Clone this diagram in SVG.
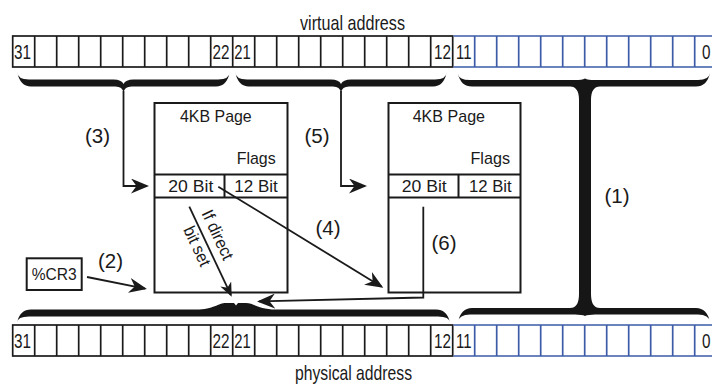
<svg xmlns="http://www.w3.org/2000/svg" width="712" height="385" viewBox="0 0 712 385">
<style>
text{font-family:"Liberation Sans",Arial,sans-serif;fill:#1a1a1a}
.num{font-size:21px}
.lbl{font-size:20.5px}
.nt{font-size:17px}
.cap{font-size:21px}
.cellk{fill:none;stroke:#1a1a1a;stroke-width:1.7}
.cellb{fill:none;stroke:#3d5ca8;stroke-width:1.7}
.node{fill:#fff;stroke:#1a1a1a;stroke-width:2}
.brace{fill:#161616}
.conn{fill:none;stroke:#1a1a1a;stroke-width:1.8}
</style>
<defs>
<marker id="ah" viewBox="-16 -7.5 19 15" refX="0" refY="0" markerWidth="19" markerHeight="15" markerUnits="userSpaceOnUse" orient="auto"><path d="M2,0 L-16,-7.5 L-10.5,0 L-16,7.5 Z" fill="#1a1a1a"/></marker>
<marker id="ahs" viewBox="-13 -6 16 12" refX="0" refY="0" markerWidth="16" markerHeight="12" markerUnits="userSpaceOnUse" orient="auto"><path d="M2,0 L-12,-6 L-8,0 L-12,6 Z" fill="#1a1a1a"/></marker>
<g id="bar">
<rect class="cellk" x="12.7" y="0" width="440" height="31"/>
<path class="cellk" d="M34.7,0V31M56.7,0V31M78.7,0V31M100.7,0V31M122.7,0V31M144.7,0V31M166.7,0V31M188.7,0V31M210.7,0V31M232.7,0V31M254.7,0V31M276.7,0V31M298.7,0V31M320.7,0V31M342.7,0V31M364.7,0V31M386.7,0V31M408.7,0V31M430.7,0V31"/>
<path class="cellb" d="M453.5,0H716.7M453.5,31H716.7M474.7,0V31M496.7,0V31M518.7,0V31M540.7,0V31M562.7,0V31M584.7,0V31M606.7,0V31M628.7,0V31M650.7,0V31M672.7,0V31M694.7,0V31M716.7,0V31"/>
<text class="num" x="14" y="22.5" textLength="17" lengthAdjust="spacingAndGlyphs">31</text>
<text class="num" x="212.5" y="22.5" textLength="17" lengthAdjust="spacingAndGlyphs">22</text>
<text class="num" x="234.3" y="22.5" textLength="16.5" lengthAdjust="spacingAndGlyphs">21</text>
<text class="num" x="434" y="22.5" textLength="17" lengthAdjust="spacingAndGlyphs">12</text>
<text class="num" x="456" y="22.5" textLength="15.5" lengthAdjust="spacingAndGlyphs">11</text>
<text class="num" x="702" y="22.5" textLength="8.5" lengthAdjust="spacingAndGlyphs">0</text>
</g>
</defs>

<g id="virtual-address">
<use href="#bar" y="36"/>
<text class="cap" x="300" y="30" textLength="105" lengthAdjust="spacingAndGlyphs">virtual address</text>
</g>

<g id="physical-address">
<use href="#bar" y="325"/>
<text class="cap" x="295" y="380" textLength="117" lengthAdjust="spacingAndGlyphs">physical address</text>
</g>

<g id="braces">
<path class="brace" d="M17,71.5 Q17.5,79.5 29,79.5 L113.5,79.5 Q121.5,79.5 123.5,84 Q125.5,79.5 133.5,79.5 L218,79.5 Q229.5,79.5 230,71.5 Q227,86.5 216,86.5 L131.5,86.5 Q124.5,86.5 123.5,92.5 Q122.5,86.5 115.5,86.5 L31,86.5 Q20,86.5 17,71.5 Z"/>
<path class="brace" d="M235,71.5 Q235.5,79.5 247,79.5 L331,79.5 Q339,79.5 341,84 Q343,79.5 351,79.5 L435,79.5 Q446.5,79.5 447,71.5 Q444,86.5 433,86.5 L349,86.5 Q342,86.5 341,92.5 Q340,86.5 333,86.5 L249,86.5 Q238,86.5 235,71.5 Z"/>
<path class="brace" d="M17,322.5 Q17.5,316.5 29,316.5 L438,316.5 Q449.5,316.5 450,322.5 Q447,309.5 436,309.5 L276,309.5 C258,309.5 254,303 246,303 L238,303 L236,305.5 L234,303 L226,303 C218,303 214,309.5 196,309.5 L31,309.5 Q20,309.5 17,322.5 Z"/>
<path class="brace" d="M458,74 Q459,80 470,80 L575,80 Q582,80 585,78.5 Q588,80 595,80 L698,80 Q709,80 710,73 Q707,86.5 696,86.5 L600,86.5 Q591,86.5 591,100 L591,294 Q591,308 600,308 L696,308 Q707,308 710,322 Q709,314.5 698,314.5 L595,314.5 Q588,314.5 585,316 Q582,314.5 575,314.5 L470,314.5 Q459,314.5 458,322 Q461,308 472,308 L570,308 Q579,308 579,294 L579,100 Q579,86.5 570,86.5 L472,86.5 Q461,86.5 458,74 Z"/>
</g>

<g id="page-dir">
<rect class="node" x="154.5" y="103" width="133" height="189.5"/>
<path class="cellk" style="stroke-width:2" d="M154.5,174.5H287.5M154.5,197.5H287.5M224.5,174.5V197.5"/>
<text class="nt" x="180" y="121.5" textLength="71.7" lengthAdjust="spacingAndGlyphs">4KB Page</text>
<text class="nt" x="236.7" y="163.5" textLength="39" lengthAdjust="spacingAndGlyphs">Flags</text>
<text class="nt" x="168.3" y="191.5" textLength="45" lengthAdjust="spacingAndGlyphs">20 Bit</text>
<text class="nt" x="234.3" y="191.5" textLength="43.4" lengthAdjust="spacingAndGlyphs">12 Bit</text>
</g>

<g id="page-table">
<rect class="node" x="388.5" y="103" width="132" height="189.5"/>
<path class="cellk" style="stroke-width:2" d="M388.5,174.5H520.5M388.5,197.5H520.5M458.5,174.5V197.5"/>
<text class="nt" x="412.7" y="121.5" textLength="72.3" lengthAdjust="spacingAndGlyphs">4KB Page</text>
<text class="nt" x="470.5" y="163.5" textLength="39.5" lengthAdjust="spacingAndGlyphs">Flags</text>
<text class="nt" x="401.7" y="191.5" textLength="45" lengthAdjust="spacingAndGlyphs">20 Bit</text>
<text class="nt" x="469" y="191.5" textLength="42.7" lengthAdjust="spacingAndGlyphs">12 Bit</text>
</g>

<g id="cr3">
<rect class="node" x="26.7" y="258.3" width="55" height="31.7"/>
<text class="nt" x="31.7" y="280" textLength="45" lengthAdjust="spacingAndGlyphs">%CR3</text>
</g>

<g id="connectors">
<polyline class="conn" points="123.5,91 123.5,186 147,186" marker-end="url(#ah)"/>
<polyline class="conn" points="341,91 341,186 365,186" marker-end="url(#ah)"/>
<line class="conn" x1="87" y1="277" x2="145" y2="288.6" marker-end="url(#ah)"/>
<line class="conn" x1="189.3" y1="206.7" x2="230.85" y2="294.9" marker-end="url(#ahs)"/>
<line class="conn" x1="218.3" y1="186.7" x2="381.6" y2="286.7" marker-end="url(#ah)"/>
<polyline class="conn" points="423.3,206.7 423.3,297.5 259,301.45" marker-end="url(#ah)"/>
<g transform="translate(189.3,206.7) rotate(64.8)">
<text class="nt" x="11" y="-8" textLength="53" lengthAdjust="spacingAndGlyphs">If direct</text>
<text class="nt" x="18" y="15.5" textLength="42" lengthAdjust="spacingAndGlyphs">bit set</text>
</g>
<text class="lbl" x="85" y="143">(3)</text>
<text class="lbl" x="304.5" y="143">(5)</text>
<text class="lbl" x="315.5" y="234.5">(4)</text>
<text class="lbl" x="98" y="268">(2)</text>
<text class="lbl" x="431.5" y="250">(6)</text>
<text class="lbl" x="604.5" y="203">(1)</text>
</g>
</svg>
